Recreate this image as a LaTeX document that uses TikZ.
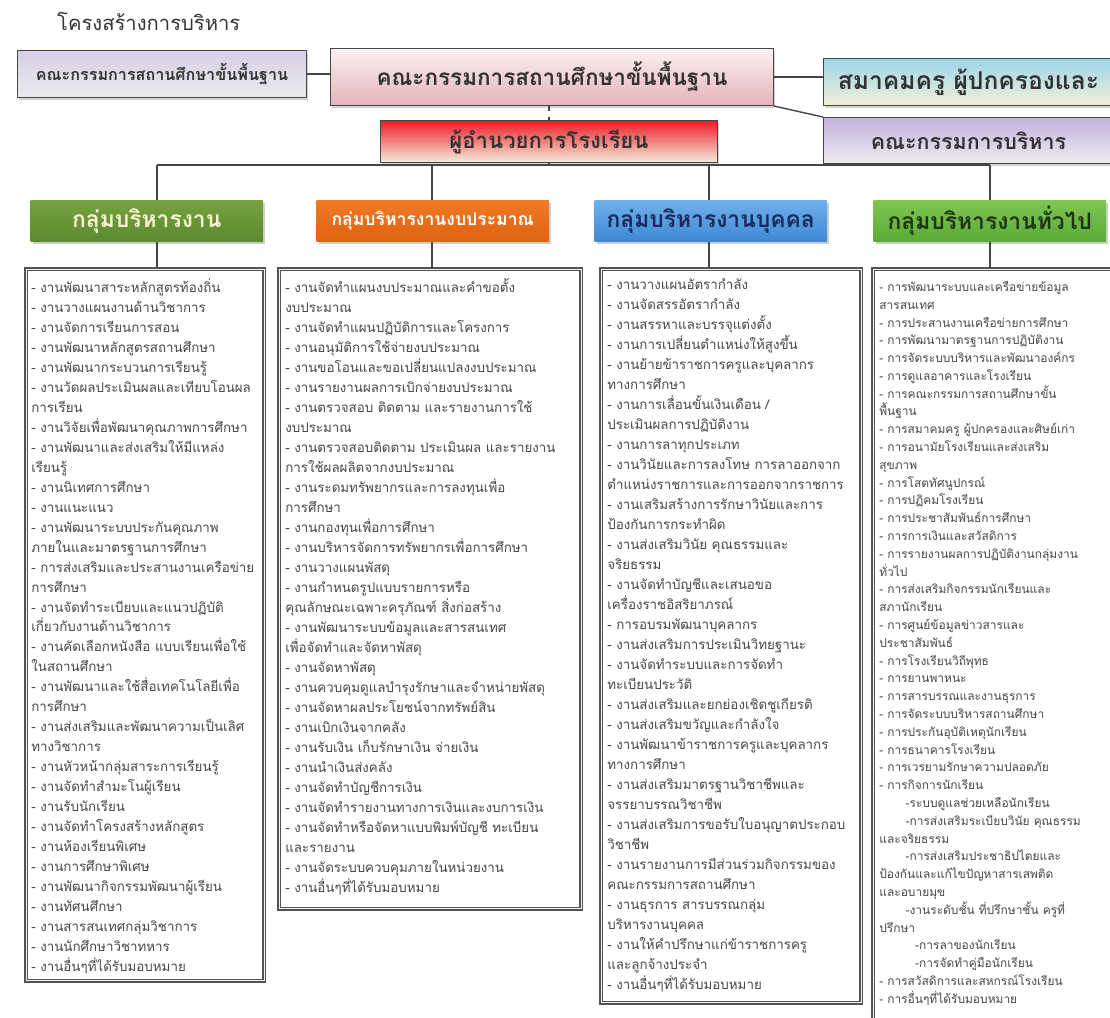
\documentclass[tikz,border=0pt]{standalone}
\usepackage{fontspec}
\newfontfamily\thai[Script=Thai]{Loma}
\usetikzlibrary{positioning}
\usetikzlibrary{calc}
\usetikzlibrary{shadows}
\definecolor{obecTop}{HTML}{D6CFE6}
\definecolor{obecBot}{HTML}{ECEAEE}
\definecolor{boardTop}{HTML}{FBF1F2}
\definecolor{boardBot}{HTML}{E4B2BA}
\definecolor{assocTop}{HTML}{9CD3E8}
\definecolor{assocBot}{HTML}{F4F1DA}
\definecolor{execTop}{HTML}{C2B2DD}
\definecolor{execBot}{HTML}{EDEBEF}
\definecolor{dirTop}{HTML}{EE1C24}
\definecolor{dirBot}{HTML}{F3EDDD}
\definecolor{acadTop}{HTML}{77A140}
\definecolor{acadBot}{HTML}{5C8A2E}
\definecolor{acadText}{HTML}{F6F3D2}
\definecolor{budgTop}{HTML}{F07A26}
\definecolor{budgBot}{HTML}{DF6210}
\definecolor{budgText}{HTML}{FFFFFF}
\definecolor{persTop}{HTML}{6FB1EA}
\definecolor{persBot}{HTML}{3E87D4}
\definecolor{persText}{HTML}{1B2A5E}
\definecolor{gensTop}{HTML}{80C552}
\definecolor{gensBot}{HTML}{5AAA36}
\definecolor{gensText}{HTML}{1E3512}
\tikzset{basic box/.style={draw=gray!55!black,
                           line width=0.6pt,
                           inner sep=0pt,
                           anchor=north west}}
\tikzset{top box/.style={basic box,
                         drop shadow={opacity=0.35,shadow xshift=1pt,shadow yshift=-1.5pt},
                         font=\thai\bfseries,
                         text=black!80}}
\tikzset{group box/.style={basic box,
                           draw=none,
                           minimum width=4.65cm,
                           minimum height=0.82cm,
                           drop shadow={opacity=0.4,shadow xshift=1.2pt,shadow yshift=-1.5pt},
                           font=\thai\bfseries\fontsize{13}{15}\selectfont}}
\tikzset{work frame/.style={basic box,
                            draw=gray!65!black,
                            line width=1.1pt,
                            double=gray!10,
                            double distance=0.45pt,
                            fill=white}}
\tikzset{work list/.style={anchor=north west,
                           inner sep=0pt,
                           align=left,
                           text=black!72,
                           font=\thai\fontsize{7.6}{11.38}\selectfont}}
\tikzset{link/.style={draw=gray!55!black,
                      line width=0.8pt}}

\begin{document}
\begin{tikzpicture}
      [
      x=0.02cm,y=-0.02cm,
      ]
      \clip (0,0) rectangle (1110,1018);
      \useasboundingbox (0,0) rectangle (1110,1018);

      % title
      \node [anchor=west,text=black!80,font=\thai\fontsize{11.5}{14}\selectfont] (title) at (51,21) {โครงสร้างการบริหาร};

      % boards at the top
      \node [top box,top color=obecTop,bottom color=obecBot,minimum width=5.78cm,minimum height=0.94cm,
             font=\thai\bfseries\fontsize{9.2}{11}\selectfont] (obec) at (17,50) {คณะกรรมการสถานศึกษาขั้นพื้นฐาน};
      \node [top box,top color=boardTop,bottom color=boardBot,minimum width=8.86cm,minimum height=1.14cm,
             font=\thai\bfseries\fontsize{12.8}{16}\selectfont] (board) at (330,48) {คณะกรรมการสถานศึกษาขั้นพื้นฐาน};
      \node [top box,top color=assocTop,bottom color=assocBot,minimum width=5.8cm,minimum height=0.94cm,
             font=\thai\bfseries\fontsize{14}{16}\selectfont] (assoc) at (823,58) {สมาคมครู ผู้ปกครองและ};
      \node [top box,top color=execTop,bottom color=execBot,minimum width=5.8cm,minimum height=0.92cm,
             font=\thai\bfseries\fontsize{12.2}{16}\selectfont] (exec) at (823,117) {คณะกรรมการบริหาร};
      \node [top box,top color=dirTop,bottom color=dirBot,minimum width=6.74cm,minimum height=0.84cm,
             font=\thai\bfseries\fontsize{12.6}{16}\selectfont] (dir) at (380,120) {ผู้อำนวยการโรงเรียน};

      % links at the top
      \draw [link] (obec.east) -- (obec.east -| board.west);
      \draw [link] (board.east) -- (board.east -| assoc.west);
      \draw [link] (board.south east) -- (exec.north west);
      \draw [link,dashed] (board.south -| dir.north) -- (dir.north);

      % groups
      \foreach \i/\x/\c/\t in
      {
      1/30/acad/กลุ่มบริหารงาน,
      2/316/budg/{\fontsize{10}{12}\selectfont กลุ่มบริหารงานงบประมาณ},
      3/594/pers/กลุ่มบริหารงานบุคคล,
      4/873/gens/กลุ่มบริหารงานทั่วไป
      }
      {
      \node [group box,top color=\c Top,bottom color=\c Bot,text=\c Text] (G\i) at (\x,200) {\t};
      }

      % frames of the work lists
      \node [work frame,minimum width=4.76cm,minimum height=14.24cm] (L1) at (25,268) {};
      \node [work frame,minimum width=6.04cm,minimum height=12.8cm] (L2) at (278,268) {};
      \node [work frame,minimum width=5.2cm,minimum height=14.68cm] (L3) at (600,268) {};
      \node [work frame,minimum width=5.2cm,minimum height=15.4cm] (L4) at (872,268) {};

      % tree
      \coordinate (bus) at (547,165);
      \draw [link,dashed] (dir.south) -- (dir.south |- bus);
      \foreach \i/\x in {1/157,2/432,3/709,4/990}
      {
      \coordinate (T\i) at (\x,165);
      }
      \draw [link] (T1) -- (T4);
      \foreach \i in {1,...,4}
      {
      \draw [link] (T\i) -- (T\i |- G\i.north);
      \draw [link] (T\i |- G\i.south) -- (T\i |- L\i.north);
      }

      % work lists
      \node [work list] (W1) at (31,278) {%
      - งานพัฒนาสาระหลักสูตรท้องถิ่น\\
      - งานวางแผนงานด้านวิชาการ\\
      - งานจัดการเรียนการสอน\\
      - งานพัฒนาหลักสูตรสถานศึกษา\\
      - งานพัฒนากระบวนการเรียนรู้\\
      - งานวัดผลประเมินผลและเทียบโอนผล\\
      การเรียน\\
      - งานวิจัยเพื่อพัฒนาคุณภาพการศึกษา\\
      - งานพัฒนาและส่งเสริมให้มีแหล่ง\\
      เรียนรู้\\
      - งานนิเทศการศึกษา\\
      - งานแนะแนว\\
      - งานพัฒนาระบบประกันคุณภาพ\\
      ภายในและมาตรฐานการศึกษา\\
      - การส่งเสริมและประสานงานเครือข่าย\\
      การศึกษา\\
      - งานจัดทำระเบียบและแนวปฏิบัติ\\
      เกี่ยวกับงานด้านวิชาการ\\
      - งานคัดเลือกหนังสือ แบบเรียนเพื่อใช้\\
      ในสถานศึกษา\\
      - งานพัฒนาและใช้สื่อเทคโนโลยีเพื่อ\\
      การศึกษา\\
      - งานส่งเสริมและพัฒนาความเป็นเลิศ\\
      ทางวิชาการ\\
      - งานหัวหน้ากลุ่มสาระการเรียนรู้\\
      - งานจัดทำสำมะโนผู้เรียน\\
      - งานรับนักเรียน\\
      - งานจัดทำโครงสร้างหลักสูตร\\
      - งานห้องเรียนพิเศษ\\
      - งานการศึกษาพิเศษ\\
      - งานพัฒนากิจกรรมพัฒนาผู้เรียน\\
      - งานทัศนศึกษา\\
      - งานสารสนเทศกลุ่มวิชาการ\\
      - งานนักศึกษาวิชาทหาร\\
      - งานอื่นๆที่ได้รับมอบหมาย};

      \node [work list] (W2) at (285,278) {%
      - งานจัดทำแผนงบประมาณและคำขอตั้ง\\
      งบประมาณ\\
      - งานจัดทำแผนปฏิบัติการและโครงการ\\
      - งานอนุมัติการใช้จ่ายงบประมาณ\\
      - งานขอโอนและขอเปลี่ยนแปลงงบประมาณ\\
      - งานรายงานผลการเบิกจ่ายงบประมาณ\\
      - งานตรวจสอบ ติดตาม และรายงานการใช้\\
      งบประมาณ\\
      - งานตรวจสอบติดตาม ประเมินผล และรายงาน\\
      การใช้ผลผลิตจากงบประมาณ\\
      - งานระดมทรัพยากรและการลงทุนเพื่อ\\
      การศึกษา\\
      - งานกองทุนเพื่อการศึกษา\\
      - งานบริหารจัดการทรัพยากรเพื่อการศึกษา\\
      - งานวางแผนพัสดุ\\
      - งานกำหนดรูปแบบรายการหรือ\\
      คุณลักษณะเฉพาะครุภัณฑ์ สิ่งก่อสร้าง\\
      - งานพัฒนาระบบข้อมูลและสารสนเทศ\\
      เพื่อจัดทำและจัดหาพัสดุ\\
      - งานจัดหาพัสดุ\\
      - งานควบคุมดูแลบำรุงรักษาและจำหน่ายพัสดุ\\
      - งานจัดหาผลประโยชน์จากทรัพย์สิน\\
      - งานเบิกเงินจากคลัง\\
      - งานรับเงิน เก็บรักษาเงิน จ่ายเงิน\\
      - งานนำเงินส่งคลัง\\
      - งานจัดทำบัญชีการเงิน\\
      - งานจัดทำรายงานทางการเงินและงบการเงิน\\
      - งานจัดทำหรือจัดหาแบบพิมพ์บัญชี ทะเบียน\\
      และรายงาน\\
      - งานจัดระบบควบคุมภายในหน่วยงาน\\
      - งานอื่นๆที่ได้รับมอบหมาย};

      \node [work list] (W3) at (607,278) {%
      - งานวางแผนอัตรากำลัง\\
      - งานจัดสรรอัตรากำลัง\\
      - งานสรรหาและบรรจุแต่งตั้ง\\
      - งานการเปลี่ยนตำแหน่งให้สูงขึ้น\\
      - งานย้ายข้าราชการครูและบุคลากร\\
      ทางการศึกษา\\
      - งานการเลื่อนขั้นเงินเดือน /\\
      ประเมินผลการปฏิบัติงาน\\
      - งานการลาทุกประเภท\\
      - งานวินัยและการลงโทษ การลาออกจาก\\
      ตำแหน่งราชการและการออกจากราชการ\\
      - งานเสริมสร้างการรักษาวินัยและการ\\
      ป้องกันการกระทำผิด\\
      - งานส่งเสริมวินัย คุณธรรมและ\\
      จริยธรรม\\
      - งานจัดทำบัญชีและเสนอขอ\\
      เครื่องราชอิสริยาภรณ์\\
      - การอบรมพัฒนาบุคลากร\\
      - งานส่งเสริมการประเมินวิทยฐานะ\\
      - งานจัดทำระบบและการจัดทำ\\
      ทะเบียนประวัติ\\
      - งานส่งเสริมและยกย่องเชิดชูเกียรติ\\
      - งานส่งเสริมขวัญและกำลังใจ\\
      - งานพัฒนาข้าราชการครูและบุคลากร\\
      ทางการศึกษา\\
      - งานส่งเสริมมาตรฐานวิชาชีพและ\\
      จรรยาบรรณวิชาชีพ\\
      - งานส่งเสริมการขอรับใบอนุญาตประกอบ\\
      วิชาชีพ\\
      - งานรายงานการมีส่วนร่วมกิจกรรมของ\\
      คณะกรรมการสถานศึกษา\\
      - งานธุรการ สารบรรณกลุ่ม\\
      บริหารงานบุคคล\\
      - งานให้คำปรึกษาแก่ข้าราชการครู\\
      และลูกจ้างประจำ\\
      - งานอื่นๆที่ได้รับมอบหมาย};

      \node [work list,font=\thai\fontsize{6.8}{10.13}\selectfont] (W4) at (879,281) {%
      - การพัฒนาระบบและเครือข่ายข้อมูล\\
      สารสนเทศ\\
      - การประสานงานเครือข่ายการศึกษา\\
      - การพัฒนามาตรฐานการปฏิบัติงาน\\
      - การจัดระบบบริหารและพัฒนาองค์กร\\
      - การดูแลอาคารและโรงเรียน\\
      - การคณะกรรมการสถานศึกษาขั้น\\
      พื้นฐาน\\
      - การสมาคมครู ผู้ปกครองและศิษย์เก่า\\
      - การอนามัยโรงเรียนและส่งเสริม\\
      สุขภาพ\\
      - การโสตทัศนูปกรณ์\\
      - การปฏิคมโรงเรียน\\
      - การประชาสัมพันธ์การศึกษา\\
      - การการเงินและสวัสดิการ\\
      - การรายงานผลการปฏิบัติงานกลุ่มงาน\\
      ทั่วไป\\
      - การส่งเสริมกิจกรรมนักเรียนและ\\
      สภานักเรียน\\
      - การศูนย์ข้อมูลข่าวสารและ\\
      ประชาสัมพันธ์\\
      - การโรงเรียนวิถีพุทธ\\
      - การยานพาหนะ\\
      - การสารบรรณและงานธุรการ\\
      - การจัดระบบบริหารสถานศึกษา\\
      - การประกันอุบัติเหตุนักเรียน\\
      - การธนาคารโรงเรียน\\
      - การเวรยามรักษาความปลอดภัย\\
      - การกิจการนักเรียน\\
      \hspace*{2.2em}-ระบบดูแลช่วยเหลือนักเรียน\\
      \hspace*{2.2em}-การส่งเสริมระเบียบวินัย คุณธรรม\\
      และจริยธรรม\\
      \hspace*{2.2em}-การส่งเสริมประชาธิปไตยและ\\
      ป้องกันและแก้ไขปัญหาสารเสพติด\\
      และอบายมุข\\
      \hspace*{2.2em}-งานระดับชั้น ที่ปรึกษาชั้น ครูที่\\
      ปรึกษา\\
      \hspace*{3em}-การลาของนักเรียน\\
      \hspace*{3em}-การจัดทำคู่มือนักเรียน\\
      - การสวัสดิการและสหกรณ์โรงเรียน\\
      - การอื่นๆที่ได้รับมอบหมาย};

    \end{tikzpicture}
\end{document}
